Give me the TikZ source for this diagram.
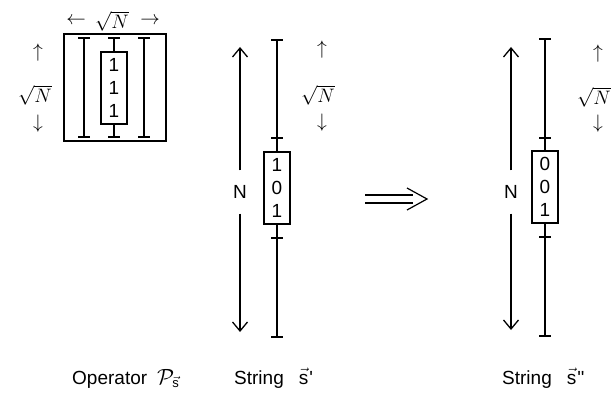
\RequirePackage{fix-cm}
\documentclass[tikz,border=0pt]{standalone}
\usepackage{fontspec}
\newfontfamily\lsans{Liberation Sans}
\usetikzlibrary{arrows.meta}
\begin{document}
\begin{tikzpicture}[x=1pt,y=-1pt,
  ln/.style={line width=1.3pt},
  dbox/.style={draw,line width=1.3pt,minimum width=26pt,minimum height=72pt,inner sep=0pt,align=center,font=\lsans\fontsize{19}{23}\selectfont},
  sanslbl/.style={font=\lsans\fontsize{19}{23}\selectfont,inner sep=0pt},
  nlbl/.style={font=\lsans\fontsize{19}{23}\selectfont,inner xsep=0pt,inner ysep=15pt},
  mathlbl/.style={font=\fontsize{19.5}{21}\selectfont,inner sep=0pt},
  narrow/.style={line width=1.3pt,-{Straight Barb[length=9pt,width=15pt,line width=1.3pt]}},
  dbl/.style={line width=1.2pt},
]
\useasboundingbox (0,0) rectangle (615,393);

% ---------- Operator ----------
\node[draw,line width=1.3pt,minimum width=102pt,minimum height=107pt,inner sep=0pt] (op) at (115,87.5) {};
\foreach \xx in {84,144}{
  \draw[ln] (\xx,38) -- (\xx,137);
  \draw[ln] (\xx-6,38) -- (\xx+6,38);
  \draw[ln] (\xx-6,137) -- (\xx+6,137);
}
\node[dbox] (opb) at (114,88) {1\\1\\1};
\coordinate (opt) at (114,38);
\coordinate (ope) at (114,137);
\draw[ln] (opb.north) -- (opt);
\draw[ln] (opb.south) -- (ope);
\draw[ln] ([xshift=-6pt]opt) -- ([xshift=6pt]opt);
\draw[ln] ([xshift=-6pt]ope) -- ([xshift=6pt]ope);

\node[mathlbl] (ola) at (76,21) {$\leftarrow$};
\node[mathlbl] (olb) at (112,21) {$\sqrt{N}$};
\node[mathlbl] (olc) at (150,21) {$\rightarrow$};
\node[mathlbl] (oua) at (38,53) {$\uparrow$};
\node[mathlbl] (oub) at (35,95) {$\sqrt{N}$};
\node[mathlbl] (ouc) at (38,124) {$\downarrow$};

% ---------- String s' ----------
\node[dbox] (b1) at (277,188) {1\\0\\1};
\coordinate (t1) at (277,40);
\coordinate (e1) at (277,337);
\coordinate (k1a) at (277,138);
\coordinate (k1b) at (277,238);
\draw[ln] (b1.north) -- (t1);
\draw[ln] (b1.south) -- (e1);
\foreach \c in {t1,e1,k1a,k1b}{
  \draw[ln] ([xshift=-6pt]\c) -- ([xshift=6pt]\c);
}
\node[nlbl] (n1) at (240,192) {N};
\coordinate (n1t) at (240,47);
\coordinate (n1b) at (240,332);
\draw[narrow] (n1.north) -- (n1t);
\draw[narrow] (n1.south) -- (n1b);
\node[mathlbl] (s1a) at (322,50) {$\uparrow$};
\node[mathlbl] (s1b) at (318,95) {$\sqrt{N}$};
\node[mathlbl] (s1c) at (322,123) {$\downarrow$};

% ---------- implication arrow ----------
\coordinate (da) at (365,199);
\coordinate (db) at (427,199);
\draw[dbl] ([yshift=4pt]da) -- ([xshift=-14pt,yshift=4pt]db);
\draw[dbl] ([yshift=-4pt]da) -- ([xshift=-14pt,yshift=-4pt]db);
\draw[dbl] ([xshift=-20pt,yshift=11pt]db) -- (db) -- ([xshift=-20pt,yshift=-11pt]db);

% ---------- String s'' ----------
\node[dbox] (b2) at (545,187) {0\\0\\1};
\coordinate (t2) at (545,39);
\coordinate (e2) at (545,336);
\coordinate (k2a) at (545,138);
\coordinate (k2b) at (545,237);
\draw[ln] (b2.north) -- (t2);
\draw[ln] (b2.south) -- (e2);
\foreach \c in {t2,e2,k2a,k2b}{
  \draw[ln] ([xshift=-6pt]\c) -- ([xshift=6pt]\c);
}
\node[nlbl] (n2) at (511,192) {N};
\coordinate (n2t) at (511,47);
\coordinate (n2b) at (511,330);
\draw[narrow] (n2.north) -- (n2t);
\draw[narrow] (n2.south) -- (n2b);
\node[mathlbl] (s2a) at (598,54) {$\uparrow$};
\node[mathlbl] (s2b) at (594,97) {$\sqrt{N}$};
\node[mathlbl] (s2c) at (598,124) {$\downarrow$};

% ---------- captions ----------
\node[sanslbl,anchor=base west] (oplbl) at (72,384) {Operator\hspace{10pt}{\fontsize{22}{22}\selectfont$\mathcal{P}_{\vec{\mbox{\lsans\fontsize{13}{13}\selectfont s}}}$}};
\node[sanslbl,anchor=base west] (s1lbl) at (234,384) {String\hspace{15pt}$\vec{\mbox{s}}$\kern1pt'};
\node[sanslbl,anchor=base west] (s2lbl) at (502,384) {String\hspace{15pt}$\vec{\mbox{s}}$\kern1pt''};
\end{tikzpicture}
\end{document}
